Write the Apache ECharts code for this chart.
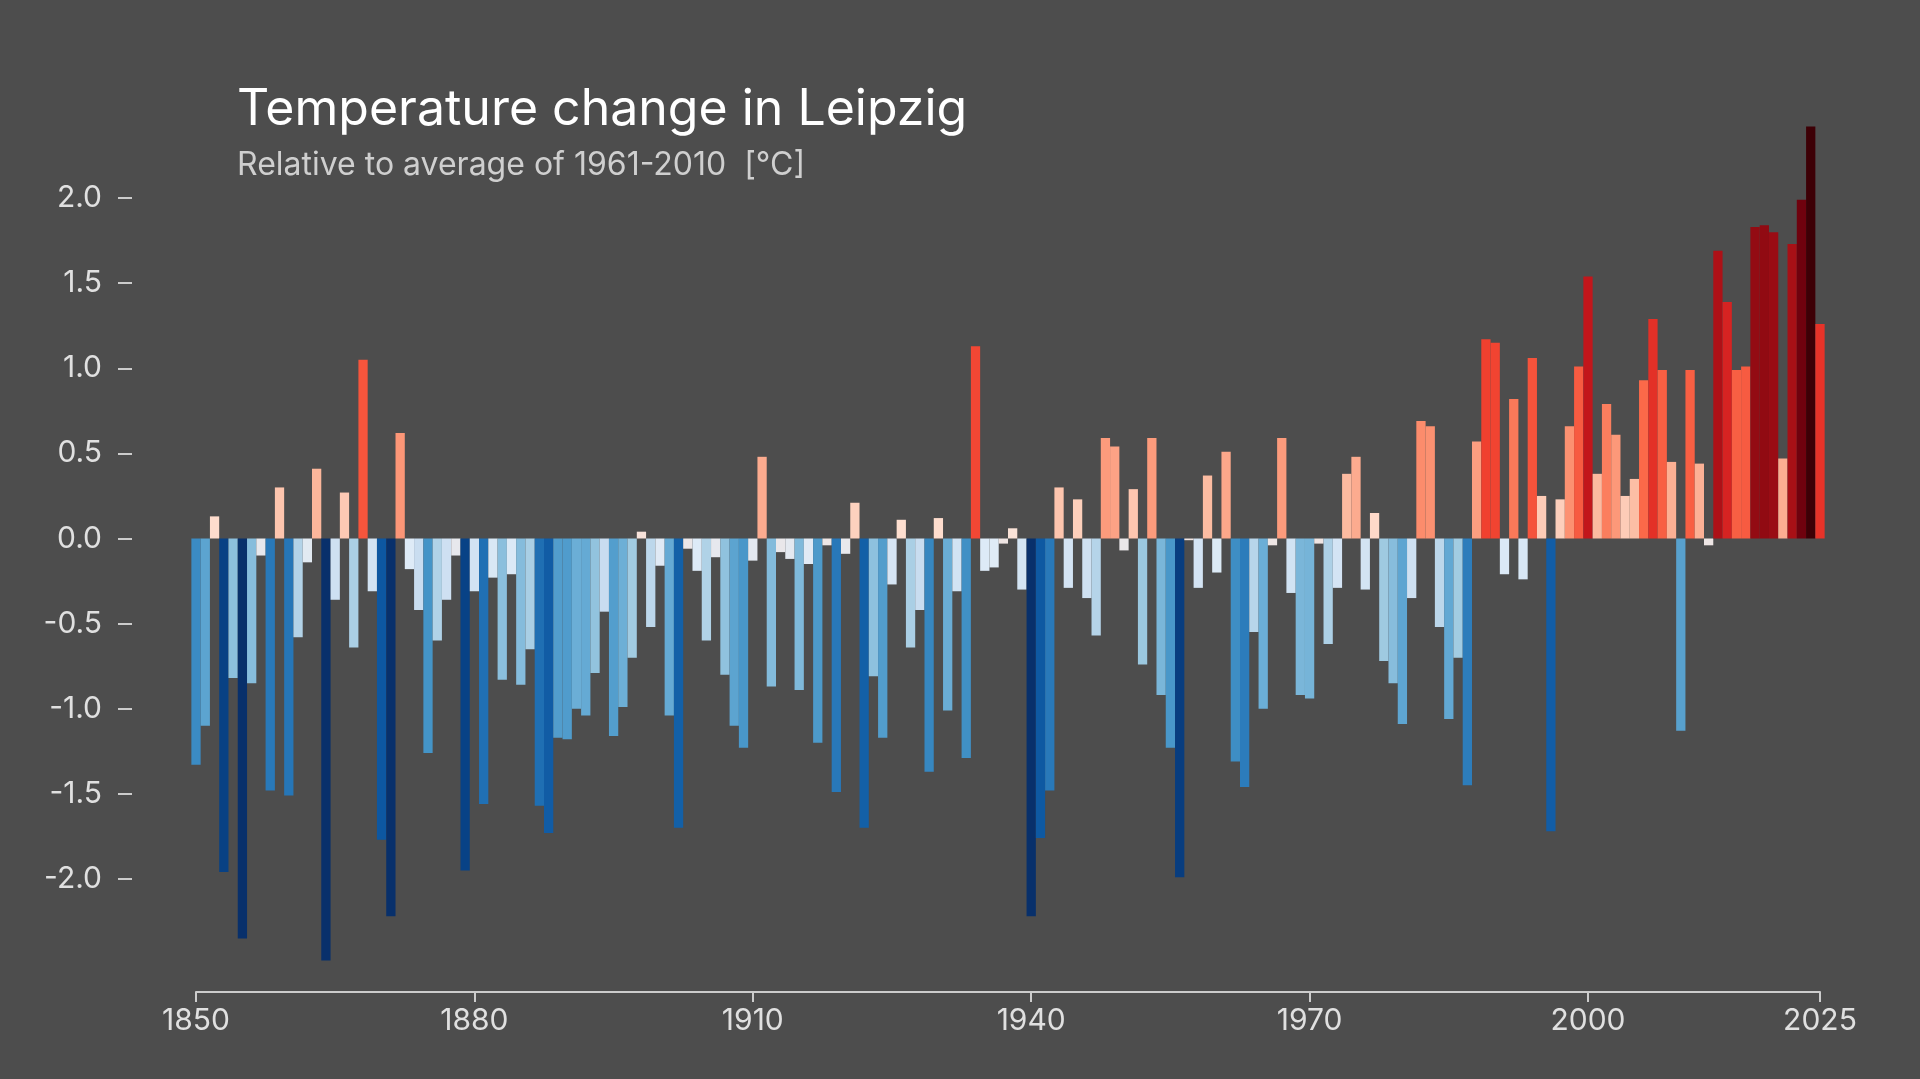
<!DOCTYPE html>
<html>
<head>
<meta charset="utf-8">
<title>Temperature change in Leipzig</title>
<script src="https://cdn.jsdelivr.net/npm/echarts@6/dist/echarts.min.js"></script>
<style>
html, body { margin: 0; padding: 0; background: #4d4d4d; }
#chart { width: 1920px; height: 1079px; }
</style>
</head>
<body>
<div id="chart"></div>
<script>
// anomalies relative to 1961-2010 mean, [°C]
var firstYear = 1850;
var anom1850 = [-1.33, -1.10, 0.13, -1.96, -0.82, -2.35, -0.85, -0.10, -1.48, 0.30,
                -1.51, -0.58, -0.14, 0.41, -2.48, -0.36, 0.27, -0.64, 1.05, -0.31];
var anom1870 = [-1.77, -2.22, 0.62, -0.18, -0.42, -1.26, -0.60, -0.36, -0.10, -1.95,
                -0.31, -1.56, -0.23, -0.83, -0.21, -0.86, -0.65, -1.57, -1.73, -1.17];
var anom1890 = [-1.18, -1.00, -1.04, -0.79, -0.43, -1.16, -0.99, -0.70, 0.04, -0.52,
                -0.16, -1.04, -1.70, -0.06, -0.19, -0.60, -0.11, -0.80, -1.10, -1.23];
var anom1910 = [-0.13, 0.48, -0.87, -0.08, -0.12, -0.89, -0.15, -1.20, -0.04, -1.49,
                -0.09, 0.21, -1.70, -0.81, -1.17, -0.27, 0.11, -0.64, -0.42, -1.37];
var anom1930 = [0.12, -1.01, -0.31, -1.29, 1.13, -0.19, -0.17, -0.03, 0.06, -0.30,
                -2.22, -1.76, -1.48, 0.30, -0.29, 0.23, -0.35, -0.57, 0.59, 0.54];
var anom1950 = [-0.07, 0.29, -0.74, 0.59, -0.92, -1.23, -1.99, -0.01, -0.29, 0.37,
                -0.20, 0.51, -1.31, -1.46, -0.55, -1.00, -0.04, 0.59, -0.32, -0.92];
var anom1970 = [-0.94, -0.03, -0.62, -0.29, 0.38, 0.48, -0.30, 0.15, -0.72, -0.85,
                -1.09, -0.35, 0.69, 0.66, -0.52, -1.06, -0.70, -1.45, 0.57, 1.17];
var anom1990 = [1.15, -0.21, 0.82, -0.24, 1.06, 0.25, -1.72, 0.23, 0.66, 1.01,
                1.54, 0.38, 0.79, 0.61, 0.25, 0.35, 0.93, 1.29, 0.99, 0.45];
var anom2010 = [-1.13, 0.99, 0.44, -0.04, 1.69, 1.39, 0.99, 1.01, 1.83, 1.84,
                1.80, 0.47, 1.73, 1.99, 2.42, 1.26];

var anomalies = [].concat(anom1850, anom1870, anom1890, anom1910, anom1930,
                          anom1950, anom1970, anom1990, anom2010);
var years = anomalies.map(function (v, i) { return String(firstYear + i); });
var yearLabels = ['1850', '1880', '1910', '1940', '1970', '2000', '2025'];
var yTicks = [-2, -1.5, -1, -0.5, 0, 0.5, 1, 1.5, 2];
var stripeColors = ['#08306b', '#08519c', '#2171b5', '#4292c6', '#6baed6', '#9ecae1',
                    '#c6dbef', '#deebf7', '#fee0d2', '#fcbba1', '#fc9272', '#fb6a4a',
                    '#ef3b2c', '#cb181d', '#a50f15', '#67000d', '#3d0006'];

var chart = echarts.init(document.getElementById('chart'));
var font = 'Inter, "Liberation Sans", Arial, sans-serif';

function showYear(idx, val) { return yearLabels.indexOf(val) >= 0; }

var option = {
  backgroundColor: '#4d4d4d',
  animation: false,
  title: {
    text: 'Temperature change in Leipzig',
    subtext: 'Relative to average of 1961-2010  [°C]',
    left: 232,
    top: 80,
    itemGap: 14,
    textStyle: { color: '#ffffff', fontSize: 50, fontWeight: 'normal', fontFamily: font },
    subtextStyle: { color: '#cfcfcf', fontSize: 32, fontFamily: font }
  },
  visualMap: {
    show: false,
    type: 'continuous',
    min: -2.1,
    max: 2.3,
    dimension: 1,
    inRange: { color: stripeColors }
  },
  grid: { left: 196, right: 100, top: 113, bottom: 115 },
  xAxis: {
    type: 'category',
    data: years,
    boundaryGap: false,
    offset: 28,
    axisLine: { onZero: false, lineStyle: { color: '#cccccc', width: 2 } },
    axisTick: { interval: showYear, length: 10, lineStyle: { color: '#cccccc', width: 2 } },
    axisLabel: { interval: showYear, color: '#e0e0e0', fontSize: 30, margin: 14, fontFamily: font },
    splitLine: { show: false }
  },
  yAxis: {
    type: 'value',
    min: -2.5,
    max: 2.5,
    interval: 0.5,
    offset: 64,
    axisLine: { show: false },
    axisTick: {
      show: true, length: 14, customValues: yTicks,
      lineStyle: { color: '#cccccc', width: 2 }
    },
    axisLabel: {
      color: '#e0e0e0', fontSize: 30, margin: 30, fontFamily: font,
      customValues: yTicks,
      formatter: function (v) { return v.toFixed(1); }
    },
    splitLine: { show: false }
  },
  series: [{
    type: 'bar',
    data: anomalies,
    barCategoryGap: 0,
    barWidth: '100%'
  }]
};

chart.setOption(option);
window.addEventListener('resize', function () { chart.resize(); });
</script>
</body>
</html>
